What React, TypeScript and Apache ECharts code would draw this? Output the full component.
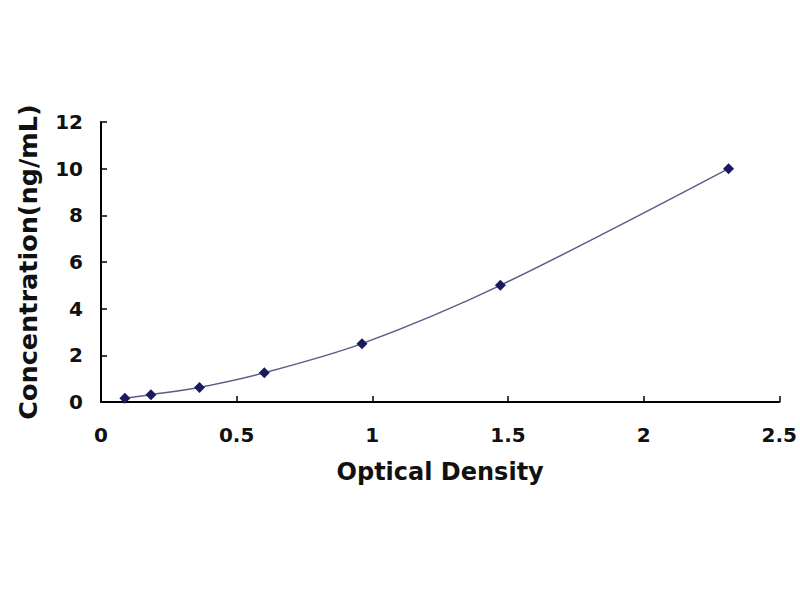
import React, { useEffect, useRef } from "react";
import * as echarts from "echarts";

const opticalDensity = [0.088, 0.184, 0.363, 0.602, 0.962, 1.472, 2.313];
const concentration = [0.156, 0.312, 0.625, 1.25, 2.5, 5, 10];
const xAxisName = "Optical Density";
const yAxisName = "Concentration(ng/mL)";

const FONT = "'DejaVu Sans', Arial, sans-serif";

export default function App() {
  const ref = useRef<HTMLDivElement>(null);
  useEffect(() => {
    if (!ref.current) return;
    const chart = echarts.init(ref.current, null, { renderer: "svg" });
    const points = opticalDensity.map((x, i) => [x, concentration[i]]);
    chart.setOption({
      animation: false,
      backgroundColor: "#ffffff",
      grid: { left: 101, right: 18, top: 122, bottom: 198, containLabel: false },
      xAxis: {
        type: "value",
        min: 0,
        max: 2.5,
        interval: 0.5,
        name: xAxisName,
        nameLocation: "middle",
        nameGap: 58,
        nameTextStyle: { fontFamily: FONT, fontWeight: "bold", fontSize: 24, color: "#111" },
        axisLine: { show: true, onZero: false, lineStyle: { color: "#000", width: 2 } },
        axisTick: { show: true, inside: true, length: 6, lineStyle: { color: "#000", width: 1.5 } },
        axisLabel: { margin: 23, fontFamily: FONT, fontWeight: "bold", fontSize: 20, color: "#111" },
        splitLine: { show: false },
      },
      yAxis: {
        type: "value",
        min: 0,
        max: 12,
        interval: 2,
        name: yAxisName,
        nameLocation: "middle",
        nameGap: 60,
        nameRotate: 90,
        nameTextStyle: { fontFamily: FONT, fontWeight: "bold", fontSize: 25.5, color: "#111" },
        axisLine: { show: true, onZero: false, lineStyle: { color: "#000", width: 2 } },
        axisTick: { show: true, inside: true, length: 6, lineStyle: { color: "#000", width: 1.5 } },
        axisLabel: { margin: 18, fontFamily: FONT, fontWeight: "bold", fontSize: 20, color: "#111" },
        splitLine: { show: false },
      },
      series: [
        {
          type: "line",
          data: points,
          smooth: 0.3,
          symbol: "diamond",
          symbolSize: 11,
          itemStyle: { color: "#1a1a5e" },
          lineStyle: { color: "#5c5c8c", width: 1.5 },
        },
      ],
    });
    return () => chart.dispose();
  }, []);
  return (
    <div
      ref={ref}
      style={{ position: "fixed", left: 0, top: 0, width: 800, height: 600, background: "#fff" }}
    />
  );
}
